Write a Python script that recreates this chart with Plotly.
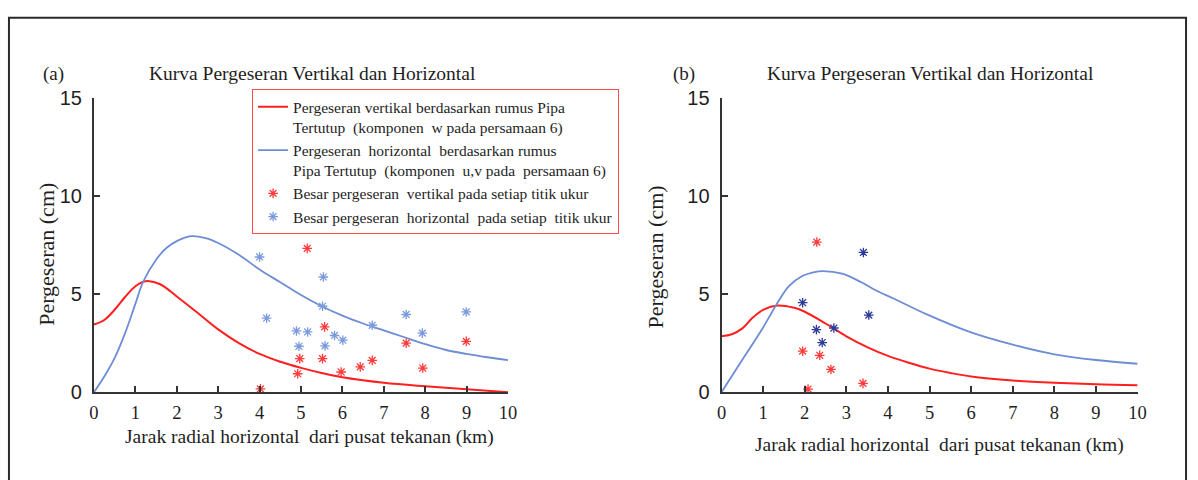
import plotly.graph_objects as go

W, H = 1198, 480

# ---- data: panel (a) ----
a_curve_x_v = [0, 0.25, 0.5, 0.75, 1.0, 1.19, 1.3, 1.6, 2.0, 2.5, 3.0, 3.5, 4.0, 4.5, 5.0, 5.5, 6.0, 7.0, 8.0, 9.0, 10.0]
a_curve_v = [3.45, 3.68, 4.2, 4.85, 5.4, 5.63, 5.67, 5.5, 4.88, 4.05, 3.2, 2.5, 1.95, 1.55, 1.24, 0.98, 0.76, 0.48, 0.3, 0.15, 0.0]
a_curve_x_h = [0, 0.25, 0.5, 0.75, 1.0, 1.19, 1.5, 1.75, 2.0, 2.35, 2.7, 3.0, 3.5, 4.0, 4.5, 5.0, 5.5, 6.0, 6.5, 7.0, 7.5, 8.0, 8.5, 9.0, 9.5, 10.0]
a_curve_h = [0, 0.8, 1.75, 3.0, 4.5, 5.63, 6.75, 7.35, 7.7, 7.95, 7.85, 7.6, 7.0, 6.25, 5.6, 4.95, 4.38, 3.9, 3.5, 3.15, 2.8, 2.45, 2.15, 1.95, 1.78, 1.63]

a_obs_x_v = [5.15, 5.57, 4.97, 5.52, 4.92, 5.97, 6.43, 6.72, 7.54, 7.94, 8.99, 4.02, 5.54]
a_obs_v = [7.33, 3.33, 1.71, 1.71, 0.94, 1.03, 1.29, 1.62, 2.5, 1.23, 2.59, 0.17, -0.12]
a_obs_x_h = [4.0, 5.54, 5.52, 4.17, 4.89, 5.16, 4.95, 5.58, 5.81, 6.01, 6.72, 7.54, 7.93, 8.99]
a_obs_h = [6.89, 5.87, 4.38, 3.77, 3.12, 3.07, 2.34, 2.36, 2.89, 2.65, 3.41, 3.96, 3.01, 4.09]

# ---- data: panel (b) ----
b_curve_x_v = [0, 0.25, 0.5, 0.75, 1.0, 1.35, 1.75, 2.0, 2.5, 3.0, 3.5, 4.0, 4.5, 5.0, 5.5, 6.0, 7.0, 8.0, 9.0, 10.0]
b_curve_v = [2.85, 2.95, 3.25, 3.8, 4.2, 4.42, 4.3, 4.1, 3.5, 2.85, 2.3, 1.85, 1.5, 1.2, 0.98, 0.8, 0.6, 0.48, 0.4, 0.35]
b_curve_x_h = [0, 0.5, 1.0, 1.31, 1.62, 1.94, 2.2, 2.42, 2.9, 3.36, 3.68, 4.16, 4.95, 5.98, 7.0, 8.0, 9.0, 10.0]
b_curve_h = [0, 1.65, 3.3, 4.43, 5.4, 5.92, 6.1, 6.17, 6.04, 5.6, 5.22, 4.75, 3.95, 3.06, 2.42, 1.93, 1.64, 1.45]

b_obs_x_v = [2.29, 1.95, 2.36, 2.63, 3.4, 2.08]
b_obs_v = [7.65, 2.09, 1.88, 1.16, 0.45, 0.16]
b_obs_x_h = [3.41, 1.95, 3.54, 2.28, 2.7, 2.42]
b_obs_h = [7.12, 4.56, 3.93, 3.19, 3.27, 2.53]

legend_names = [
    "Pergeseran vertikal berdasarkan rumus Pipa<br>Tertutup  (komponen  w pada persamaan 6)",
    "Pergeseran  horizontal  berdasarkan rumus<br>Pipa Tertutup  (komponen  u,v pada  persamaan 6)",
    "Besar pergeseran  vertikal pada setiap titik ukur",
    "Besar pergeseran  horizontal  pada setiap  titik ukur",
]

RED = "#ff1f1f"
BLUE_LINE = "#6d8dd4"
BLUE_MK_A = "#7a99df"
BLUE_MK_B = "#2c3a9c"
RED_MK = "#ff3b3b"
SERIF = "Liberation Serif, Times New Roman, serif"
SANS = "Liberation Sans, Arial, sans-serif"
AX = "#333333"
TXT = "#1e1e1e"


def asterisk(color):
    return dict(symbol="asterisk-open", size=8, color=color, line=dict(color=color, width=1.3))


fig = go.Figure()

# panel (a)
fig.add_trace(go.Scatter(x=a_curve_x_v, y=a_curve_v, mode="lines", name=legend_names[0],
                         line=dict(color=RED, width=2, shape="spline", smoothing=1),
                         xaxis="x", yaxis="y", cliponaxis=False))
fig.add_trace(go.Scatter(x=a_curve_x_h, y=a_curve_h, mode="lines", name=legend_names[1],
                         line=dict(color=BLUE_LINE, width=1.8, shape="spline", smoothing=1),
                         xaxis="x", yaxis="y"))
fig.add_trace(go.Scatter(x=a_obs_x_v, y=a_obs_v, mode="markers", name=legend_names[2],
                         marker=asterisk(RED_MK), xaxis="x", yaxis="y", cliponaxis=False))
fig.add_trace(go.Scatter(x=a_obs_x_h, y=a_obs_h, mode="markers", name=legend_names[3],
                         marker=asterisk(BLUE_MK_A), xaxis="x", yaxis="y", cliponaxis=False))

# panel (b)
fig.add_trace(go.Scatter(x=b_curve_x_v, y=b_curve_v, mode="lines", showlegend=False,
                         line=dict(color=RED, width=2, shape="spline", smoothing=1),
                         xaxis="x2", yaxis="y2"))
fig.add_trace(go.Scatter(x=b_curve_x_h, y=b_curve_h, mode="lines", showlegend=False,
                         line=dict(color=BLUE_LINE, width=1.8, shape="spline", smoothing=1),
                         xaxis="x2", yaxis="y2"))
fig.add_trace(go.Scatter(x=b_obs_x_v, y=b_obs_v, mode="markers", showlegend=False,
                         marker=asterisk(RED_MK), xaxis="x2", yaxis="y2", cliponaxis=False))
fig.add_trace(go.Scatter(x=b_obs_x_h, y=b_obs_h, mode="markers", showlegend=False,
                         marker=asterisk(BLUE_MK_B), xaxis="x2", yaxis="y2", cliponaxis=False))


# pixel positions -> paper fractions
def px_x(p):
    return p / W


def px_y(p):
    return 1 - p / H


ydom = [px_y(399.5), px_y(91)]
xcommon = dict(range=[0, 10], dtick=1, tick0=0, showgrid=False, zeroline=False,
               showline=True, linecolor=AX, linewidth=2, ticks="inside", ticklen=6,
               tickwidth=2, tickcolor=AX, tickfont=dict(family=SERIF, size=18.5, color=TXT),
               ticklabelstandoff=3, fixedrange=True)
ycommon = dict(range=[0, 15], dtick=5, tick0=0, showgrid=False, zeroline=False,
               showline=True, linecolor=AX, linewidth=2, ticks="inside", ticklen=6,
               tickwidth=2, tickcolor=AX, tickfont=dict(family=SANS, size=20, color=TXT),
               ticklabelstandoff=6, domain=ydom, fixedrange=True)

fig.update_layout(
    width=W, height=H,
    margin=dict(l=0, r=0, t=0, b=0),
    paper_bgcolor="white", plot_bgcolor="white",
    xaxis=dict(domain=[px_x(90), px_x(509)], anchor="y", **xcommon),
    yaxis=dict(anchor="x", **ycommon),
    xaxis2=dict(domain=[px_x(725), px_x(1146)], anchor="y2", **xcommon),
    yaxis2=dict(anchor="x2", **ycommon),
    legend=dict(x=px_x(250), y=px_y(82), xanchor="left", yanchor="top",
                bgcolor="white", bordercolor="#ff4a4a", borderwidth=1,
                font=dict(family=SERIF, size=15.5, color=TXT), valign="top"),
    showlegend=True,
)

annots = [
    dict(text="(a)", x=px_x(49), y=px_y(66), font=dict(family=SERIF, size=19, color=TXT)),
    dict(text="Kurva Pergeseran Vertikal dan Horizontal", x=px_x(311), y=px_y(66),
         font=dict(family=SERIF, size=19.5, color=TXT)),
    dict(text="(b)", x=px_x(687), y=px_y(66), font=dict(family=SERIF, size=19, color=TXT)),
    dict(text="Kurva Pergeseran Vertikal dan Horizontal", x=px_x(936), y=px_y(66),
         font=dict(family=SERIF, size=19.5, color=TXT)),
    dict(text="Jarak radial horizontal  dari pusat tekanan (km)", x=px_x(308), y=px_y(446),
         font=dict(family=SERIF, size=19.5, color=TXT)),
    dict(text="Jarak radial horizontal  dari pusat tekanan (km)", x=px_x(946), y=px_y(455),
         font=dict(family=SERIF, size=19.5, color=TXT)),
    dict(text="Pergeseran (cm)", x=px_x(42), y=px_y(255), textangle=-90,
         font=dict(family=SERIF, size=22, color=TXT)),
    dict(text="Pergeseran (cm)", x=px_x(658), y=px_y(258), textangle=-90,
         font=dict(family=SERIF, size=22, color=TXT)),
]
for a in annots:
    a.update(xref="paper", yref="paper", showarrow=False, xanchor="center", yanchor="middle")
fig.update_layout(annotations=annots)

# outer frame of the figure
fig.add_shape(type="rect", xref="paper", yref="paper",
              x0=px_x(4), x1=px_x(1195), y0=-0.2, y1=px_y(7),
              line=dict(color="#2a2a2a", width=2), fillcolor="rgba(0,0,0,0)", layer="below")

fig.write_html("out.html")
